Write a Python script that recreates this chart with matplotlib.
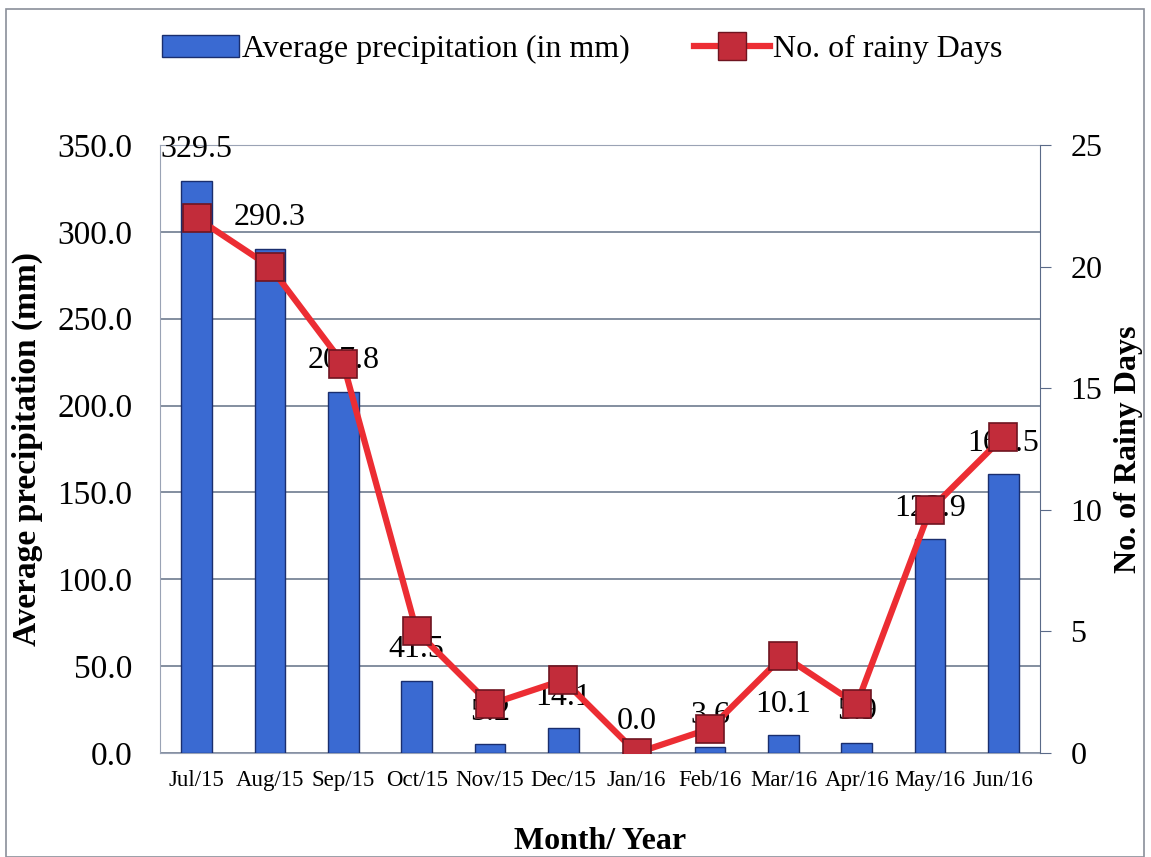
import numpy as np
import matplotlib.pyplot as plt
from matplotlib.patches import Patch, Rectangle
from matplotlib.lines import Line2D

plt.rcParams['font.family'] = ['Liberation Serif', 'DejaVu Serif']

months = ['Jul/15', 'Aug/15', 'Sep/15', 'Oct/15', 'Nov/15', 'Dec/15',
          'Jan/16', 'Feb/16', 'Mar/16', 'Apr/16', 'May/16', 'Jun/16']
precip = [329.5, 290.3, 207.8, 41.5, 5.2, 14.1, 0.0, 3.6, 10.1, 5.9, 122.9, 160.5]
rainy_days = [22, 20, 16, 5, 2, 3, 0, 1, 4, 2, 10, 13]

bar_color = '#3a6ad2'
bar_edge = '#1a2e6e'
line_color = '#ec2d33'
marker_face = '#c22c3a'
marker_edge = '#6e1420'

fig = plt.figure(figsize=(11.51, 8.57), dpi=100)
ax1 = fig.add_axes([0.139, 0.1214, 0.7646, 0.7094])
ax2 = ax1.twinx()

x = np.arange(len(months))

# precipitation bars on the left axis
ax1.bar(x, precip, width=0.42, color=bar_color, edgecolor=bar_edge, linewidth=1, zorder=3)
ax1.set_ylim(0, 350)
ax1.set_xlim(-0.5, len(months) - 0.5)
ax1.set_yticks(np.arange(0, 351, 50))
ax1.set_yticklabels([f'{v:.1f}' for v in np.arange(0, 351, 50)], fontsize=24)
ax1.set_xticks(x)
ax1.set_xticklabels(months, fontsize=16.5)
ax1.tick_params(axis='y', length=0, pad=20)
ax1.tick_params(axis='x', length=0, pad=12)
ax1.yaxis.grid(True, color='#6e7b8f', linewidth=1.2, zorder=0)
ax1.set_axisbelow(True)
for s in ['left', 'bottom', 'top']:
    ax1.spines[s].set_color('#9aa3b5')
ax1.spines['right'].set_visible(False)

# value labels above bars
for xi, v in zip(x, precip):
    ax1.annotate(f'{v:.1f}', (xi, v), xytext=(0, 12), textcoords='offset points',
                 ha='center', va='bottom', fontsize=23, zorder=4)

ax1.set_ylabel('Average precipitation (mm)', fontsize=24, fontweight='bold', labelpad=10)
ax1.set_xlabel('Month/ Year', fontsize=23, fontweight='bold', labelpad=26)

# rainy days line on the right axis
ax2.plot(x, rainy_days, color=line_color, linewidth=4.5, marker='s', markersize=20,
         markerfacecolor=marker_face, markeredgecolor=marker_edge, markeredgewidth=1.2, zorder=5)
ax2.set_ylim(0, 25)
ax2.set_yticks(np.arange(0, 26, 5))
ax2.tick_params(axis='y', labelsize=23, length=8, color='#5a6a88', pad=14)
ax2.spines['right'].set_color('#5a6a88')
for s in ['left', 'bottom', 'top']:
    ax2.spines[s].set_visible(False)
ax2.set_ylabel('No. of Rainy Days', fontsize=23, fontweight='bold', labelpad=8)

handles = [Patch(facecolor=bar_color, edgecolor=bar_edge),
           Line2D([0], [0], color=line_color, linewidth=4.5, marker='s', markersize=20,
                  markerfacecolor=marker_face, markeredgecolor=marker_edge)]
fig.legend(handles, ['Average precipitation (in mm)', 'No. of rainy Days'],
           loc='center', bbox_to_anchor=(0.506, 0.942), ncol=2, frameon=False,
           fontsize=23, handlelength=2.4, handletextpad=0.1, columnspacing=2.0)

# thin frame around the whole chart
fig.patches.append(Rectangle((0.005, 0.0), 0.989, 0.99, transform=fig.transFigure,
                             fill=False, edgecolor='#8a8f99', linewidth=1.2))

fig.savefig('out.png', dpi=100)
